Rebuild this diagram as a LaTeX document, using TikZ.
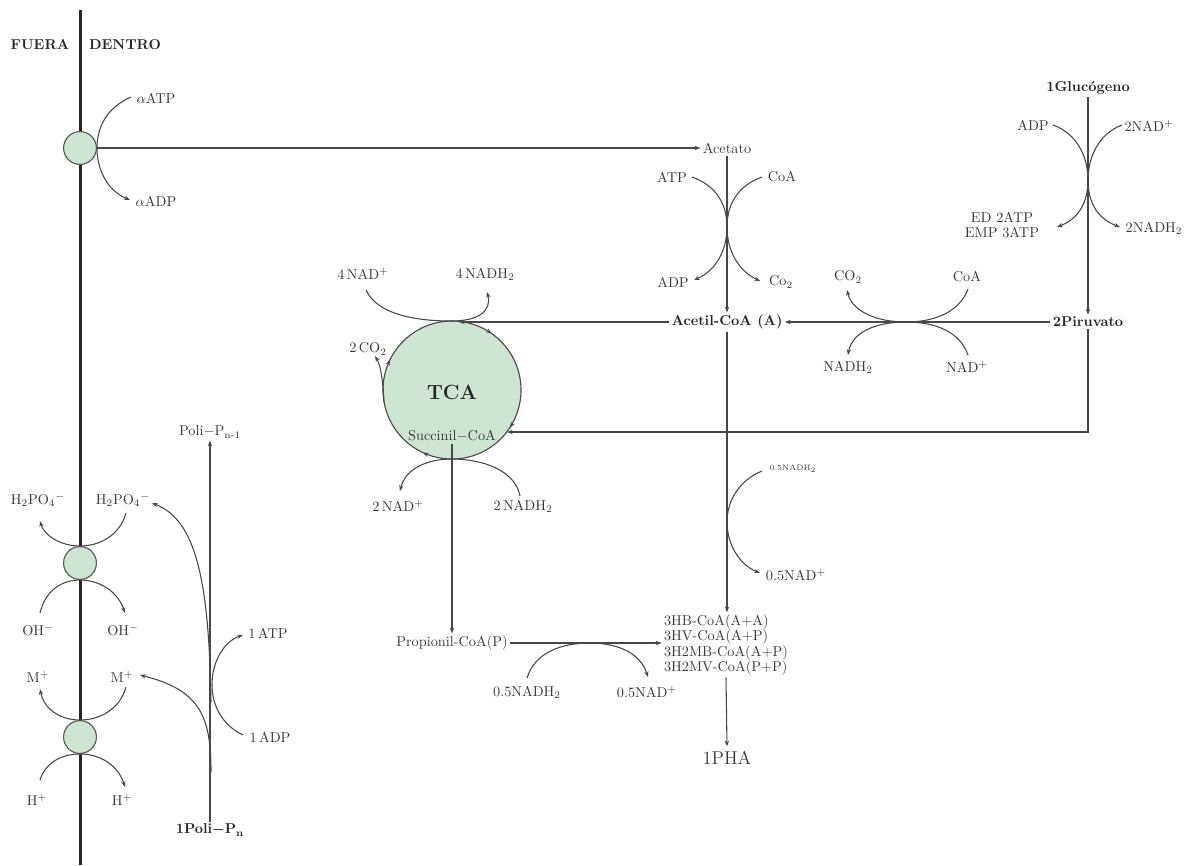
\documentclass[tikz,border=0pt]{standalone}
\usetikzlibrary{arrows.meta}
\definecolor{poregreen}{RGB}{207,229,212}
\definecolor{inkc}{RGB}{55,55,55}
\tikzset{
  lbl/.style={text=inkc, inner sep=1.5pt, font=\normalsize},
  bl/.style={text=black!85, inner sep=1.5pt, font=\bfseries\boldmath},
  tinylbl/.style={text=inkc, inner sep=1pt, font=\fontsize{5.5}{6}\selectfont},
  ln/.style={draw=black!72, line width=0.75pt},
  arr/.style={ln, -{Stealth[length=4pt,width=3pt]}},
  membrane/.style={draw=black!85, line width=2.1pt},
  pore/.style={circle, draw=black!65, line width=0.8pt, fill=poregreen, minimum size=23pt, inner sep=0pt},
  tcacircle/.style={circle, draw=black!70, line width=0.8pt, fill=poregreen, minimum size=96.6pt, inner sep=0pt},
}
\begin{document}
\begin{tikzpicture}[x=0.7pt,y=-0.7pt]
\useasboundingbox (0,0) rectangle (1188,865);

% membrane and pores
\coordinate (mtop) at (80,10);
\coordinate (mbot) at (80,865);
\draw[membrane] (mtop) -- (mbot);
\node[pore] (p1) at (80,148) {};
\node[pore] (p2) at (80,563) {};
\node[pore] (p3) at (80,737) {};
\node[bl] (fuera) at (40,45) {FUERA};
\node[bl] (dentro) at (125,45) {DENTRO};

% ATP/ADP antiport
\node[lbl] (aatp) at (156,98) {$\alpha$ATP};
\node[lbl] (aadp) at (156,201) {$\alpha$ADP};
\coordinate (aatps) at (131,97);
\coordinate (aadpe) at (130,200);
\draw[arr] (aatps) .. controls (106,108) and (97,128) .. (97,148) .. controls (97,168) and (106,190) .. (aadpe);

% acetate branch
\node[lbl] (acetato) at (727,148) {Acetato};
\draw[arr] (p1.east) -- (p1.east -| acetato.west);
\node[bl] (acetil) at (727,322) {Acetil-CoA (A)};
\draw[arr] (acetato.south) -- (acetil.north);
\node[lbl] (atpa) at (672,177) {ATP};
\node[lbl] (coaa) at (782,177) {CoA};
\node[lbl] (adpa) at (673,282) {ADP};
\node[lbl] (co2a) at (781,282) {Co$_2$};
\coordinate (atps) at (692,177);
\coordinate (adpe) at (694,280);
\coordinate (coas) at (762,177);
\coordinate (co2e) at (760,281);
\draw[arr] (atps) .. controls (717,186) and (727,205) .. (727,227) .. controls (727,249) and (717,270) .. (adpe);
\draw[arr] (coas) .. controls (737,186) and (727,205) .. (727,227) .. controls (727,249) and (737,270) .. (co2e);

% glycogen branch
\node[bl] (gluc) at (1088,88) {1Glucógeno};
\node[bl] (piru) at (1088,322) {2Piruvato};
\draw[arr] (gluc.south) -- (piru.north);
\node[lbl] (adpg) at (1033,125) {ADP};
\node[lbl] (nadg) at (1149,126) {2NAD$^+$};
\node[lbl, align=center, font={\fontsize{10}{11}\selectfont}] (edemp) at (1002,225) {ED 2ATP\\EMP 3ATP};
\node[lbl] (nadhg) at (1154,228) {2NADH$_2$};
\coordinate (adpgs) at (1053,125);
\coordinate (edempe) at (1057,227);
\coordinate (nadgs) at (1122,125);
\coordinate (nadhge) at (1120,227);
\draw[arr] (adpgs) .. controls (1078,134) and (1088,158) .. (1088,180) .. controls (1088,203) and (1078,219) .. (edempe);
\draw[arr] (nadgs) .. controls (1098,134) and (1088,158) .. (1088,180) .. controls (1088,203) and (1098,219) .. (nadhge);

% pyruvate -> acetyl-CoA
\draw[arr] (piru.west) -- (acetil.east);
\node[lbl] (co2p) at (848,277) {CO$_2$};
\node[lbl] (coap) at (967,277) {CoA};
\node[lbl] (nadhp) at (848,367) {NADH$_2$};
\node[lbl] (nadp) at (967,367) {NAD$^+$};
\coordinate (coaps) at (968,289);
\coordinate (co2pe) at (847,290);
\coordinate (nadps) at (968,355);
\coordinate (nadhpe) at (848,355);
\draw[arr] (coaps) .. controls (960,311) and (936,322) .. (906,322) .. controls (876,322) and (852,311) .. (co2pe);
\draw[arr] (nadps) .. controls (960,332) and (936,322) .. (906,322) .. controls (876,322) and (852,332) .. (nadhpe);

% TCA cycle
\node[tcacircle] (tca) at (452,390) {};
\node[text=black!85, font=\Large\bfseries] (tcalbl) at (452,392) {TCA};
\node[lbl] (succ) at (452,436) {Succinil$-$CoA};
\coordinate (tcatop) at (459,321);
\draw[arr] (acetil.west) -- (acetil.west -| tcatop);
\coordinate (succin) at (507,432);
\draw[arr] (piru.south) |- (succin);
% cycle direction ticks
\coordinate (t1a) at (488.3,331.2); \coordinate (t1b) at (491.6,333.5);
\coordinate (t2a) at (388.2,363.4); \coordinate (t2b) at (390,359.8);
\coordinate (t3a) at (512.1,424.2); \coordinate (t3b) at (509.9,427.6);
\coordinate (t4a) at (426.4,454.2); \coordinate (t4b) at (422.8,452.5);
\draw[arr] (t1a) -- (t1b);
\draw[arr] (t2a) -- (t2b);
\draw[arr] (t3a) -- (t3b);
\draw[arr] (t4a) -- (t4b);
% NAD arcs
\node[lbl] (nad4) at (363,274) {4\,NAD$^+$};
\node[lbl] (nadh4) at (485,274) {4\,NADH$_2$};
\coordinate (nad4s) at (366,290);
\coordinate (nadh4e) at (487,292);
\draw[arr] (nad4s) .. controls (378,316) and (420,321) .. (452,321) .. controls (478,321) and (492,311) .. (nadh4e);
\node[lbl] (co2t) at (368,349) {2\,CO$_2$};
\coordinate (co2ts) at (384,402);
\coordinate (co2te) at (375,356);
\draw[arr] (co2ts) .. controls (383,382) and (381,366) .. (co2te);
\node[lbl] (nad2) at (398,506) {2\,NAD$^+$};
\node[lbl] (nadh2) at (523,506) {2\,NADH$_2$};
\coordinate (nadh2s) at (520,496);
\coordinate (nad2e) at (400,491);
\draw[arr] (nadh2s) .. controls (515,470) and (482,459) .. (452,459) .. controls (425,459) and (405,470) .. (nad2e);

% propionyl and PHA
\node[lbl] (prop) at (452,643) {Propionil-CoA(P)};
\draw[arr] (succ.south) -- (prop.north);
\node[lbl, align=left, font={\fontsize{10}{10.8}\selectfont}] (prod) at (726,645) {3HB-CoA(A+A)\\3HV-CoA(A+P)\\3H2MB-CoA(A+P)\\3H2MV-CoA(P+P)};
\draw[arr] (prop.east) -- (prop.east -| prod.west);
\draw[arr] (acetil.south) -- (acetil.south |- prod.north);
\node[lbl] (h05) at (527,692) {0.5NADH$_2$};
\node[lbl] (n05) at (647,692) {0.5NAD$^+$};
\coordinate (h05s) at (527,678);
\coordinate (n05e) at (648,677);
\draw[arr] (h05s) .. controls (535,652) and (562,643) .. (590,643) .. controls (616,643) and (640,652) .. (n05e);
\node[tinylbl] (h05b) at (793,469) {0.5NADH$_2$};
\node[lbl] (n05b) at (796,575) {0.5NAD$^+$};
\coordinate (h05bs) at (762,471);
\coordinate (n05be) at (760,573);
\draw[arr] (h05bs) .. controls (740,480) and (727,500) .. (727,522) .. controls (727,545) and (740,565) .. (n05be);
\node[text=inkc, font={\fontsize{13}{15}\selectfont}] (pha) at (727,758) {1PHA};
\draw[arr] (prod.south) -- (pha.north);

% polyphosphate
\node[bl] (polipn) at (210,830) {1Poli$-$P\textsubscript{n}};
\node[lbl] (polipn1) at (210,432) {Poli$-$P\textsubscript{n-1}};
\draw[arr] (polipn.north) -- (polipn1.south);
\node[lbl] (atp1) at (268,633) {1\,ATP};
\node[lbl] (adp1) at (270,737) {1\,ADP};
\coordinate (adp1s) at (243,735);
\coordinate (atp1e) at (243,635);
\draw[arr] (adp1s) .. controls (222,725) and (212,705) .. (212,685) .. controls (212,660) and (225,641) .. (atp1e);

\node[lbl] (h2poL) at (38,500) {H$_2$PO$_4{}^{-}$};
\node[lbl] (h2poR) at (123,500) {H$_2$PO$_4{}^{-}$};
\node[lbl] (ohL) at (38,630) {OH$^-$};
\node[lbl] (ohR) at (123,630) {OH$^-$};
\node[lbl] (mL) at (38,677) {M$^+$};
\node[lbl] (mR) at (122,677) {M$^+$};
\node[lbl] (hL) at (37,800) {H$^+$};
\node[lbl] (hR) at (122,800) {H$^+$};

\coordinate (hpos) at (211,702);
\coordinate (hpoe) at (152,503);
\draw[arr] (hpos) .. controls (209,580) and (196,520) .. (hpoe);
\coordinate (mps) at (211,772);
\coordinate (mpe) at (140,675);
\draw[arr] (mps) .. controls (211,716) and (200,690) .. (mpe);

% pore 2 arcs
\coordinate (p2as) at (126,513);
\coordinate (p2ae) at (40,521);
\draw[arr] (p2as) .. controls (120,535) and (100,546) .. (80,546) .. controls (60,546) and (44,535) .. (p2ae);
\coordinate (p2bs) at (40,613);
\coordinate (p2be) at (125,613);
\draw[arr] (p2bs) .. controls (45,592) and (60,580) .. (80,580) .. controls (100,580) and (118,592) .. (p2be);
% pore 3 arcs
\coordinate (p3as) at (126,687);
\coordinate (p3ae) at (40,689);
\draw[arr] (p3as) .. controls (120,709) and (100,720) .. (80,720) .. controls (60,720) and (44,709) .. (p3ae);
\coordinate (p3bs) at (40,780);
\coordinate (p3be) at (125,787);
\draw[arr] (p3bs) .. controls (45,764) and (60,754) .. (80,754) .. controls (100,754) and (118,765) .. (p3be);

\end{tikzpicture}
\end{document}
